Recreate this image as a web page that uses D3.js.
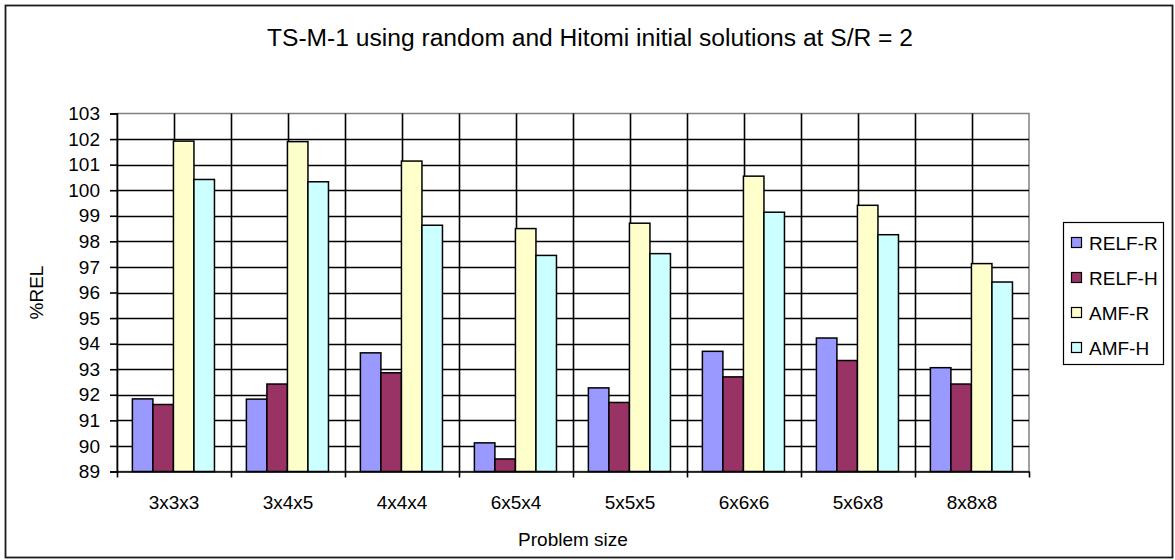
<!DOCTYPE html>
<html>
<head>
<meta charset="utf-8">
<script src="https://cdn.jsdelivr.net/npm/d3@7"></script>
<style>
  html, body { margin: 0; padding: 0; background: #fff; }
  svg { display: block; font-family: "Liberation Sans", Arial, sans-serif; }
</style>
</head>
<body>
<svg id="chart" width="1175" height="560"></svg>
<script>
const categories = ["3x3x3", "3x4x5", "4x4x4", "6x5x4", "5x5x5", "6x6x6", "5x6x8", "8x8x8"];
const seriesNames = ["RELF-R", "RELF-H", "AMF-R", "AMF-H"];
const relfR = [91.84, 91.83, 93.64, 90.12, 92.27, 93.70, 94.22, 93.06];
const relfH = [91.62, 92.42, 92.86, 89.49, 91.70, 92.70, 93.34, 92.42];
const amfR  = [101.92, 101.90, 101.14, 98.50, 98.71, 100.55, 99.41, 97.13];
const amfH  = [100.42, 100.33, 98.63, 97.45, 97.52, 99.14, 98.26, 96.41];
const seriesValues = [relfR, relfH, amfR, amfH];
const seriesColors = ["#9999FF", "#993366", "#FFFFCC", "#CCFFFF"];
const yTicks = [89, 90, 91, 92, 93, 94, 95, 96, 97, 98, 99, 100, 101, 102, 103];
const titleText = "TS-M-1 using random and Hitomi initial solutions at S/R = 2";
const xTitle = "Problem size";
const yTitle = "%REL";

const svg = d3.select("#chart");
const plot = { left: 117, right: 1029, top: 113.5, bottom: 471.5 };

// outer chart border
svg.append("rect").attr("x", 5.5).attr("y", 5.5).attr("width", 1167).attr("height", 552)
  .attr("fill", "#fff").attr("stroke", "#1a1a1a").attr("stroke-width", 1.8);

// title
svg.append("text").attr("x", 590).attr("y", 46).attr("text-anchor", "middle")
  .attr("font-size", 23).attr("fill", "#000")
  .attr("textLength", 646).attr("lengthAdjust", "spacingAndGlyphs")
  .text(titleText);

const x0 = d3.scaleBand().domain(categories).range([plot.left, plot.right]).paddingInner(0).paddingOuter(0);
const bw = x0.bandwidth();
const x1 = d3.scaleBand().domain(seriesNames).range([bw * 0.135, bw * 0.855]).padding(0);
const y = d3.scaleLinear().domain([89, 103]).range([plot.bottom, plot.top]);

// plot area
svg.append("rect").attr("x", plot.left).attr("y", plot.top)
  .attr("width", plot.right - plot.left).attr("height", plot.bottom - plot.top)
  .attr("fill", "#fff").attr("stroke", "#808080").attr("stroke-width", 1.5);

// horizontal gridlines
svg.append("g").selectAll("line").data(yTicks.filter(v => v > 89 && v < 103)).join("line")
  .attr("x1", plot.left).attr("x2", plot.right)
  .attr("y1", d => Math.round(y(d)) + 0.5).attr("y2", d => Math.round(y(d)) + 0.5)
  .attr("stroke", "#000").attr("stroke-width", 1.6);

// vertical gridlines at category boundaries and centres
const vLines = [];
categories.forEach((c, i) => {
  if (i > 0) vLines.push(x0(c));
  vLines.push(x0(c) + bw / 2);
});
svg.append("g").selectAll("line").data(vLines).join("line")
  .attr("x1", d => Math.round(d) + 0.5).attr("x2", d => Math.round(d) + 0.5)
  .attr("y1", plot.top).attr("y2", plot.bottom)
  .attr("stroke", "#000").attr("stroke-width", 1.6);

// bars
const barData = [];
categories.forEach((c, i) => {
  seriesNames.forEach((s, j) => {
    barData.push({ c, s, v: seriesValues[j][i], color: seriesColors[j] });
  });
});
svg.append("g").selectAll("rect").data(barData).join("rect")
  .attr("x", d => x0(d.c) + x1(d.s))
  .attr("width", x1.bandwidth())
  .attr("y", d => y(d.v))
  .attr("height", d => y(89) - y(d.v))
  .attr("fill", d => d.color)
  .attr("stroke", "#000").attr("stroke-width", 1.5);

// y axis
const yAxis = d3.axisLeft(y).tickValues(yTicks).tickSize(7).tickPadding(10).tickFormat(d3.format("d"));
const gy = svg.append("g").attr("transform", `translate(${plot.left},0)`).call(yAxis);
gy.select(".domain").attr("stroke", "#000").attr("stroke-width", 1.6);
gy.selectAll(".tick line").attr("stroke", "#000").attr("stroke-width", 1.6);
gy.selectAll(".tick text").attr("font-size", 19).attr("fill", "#000")
  .attr("font-family", "Liberation Sans, Arial, sans-serif");

// x axis
const xAxis = d3.axisBottom(x0).tickSize(0).tickPadding(24);
const gx = svg.append("g").attr("transform", `translate(0,${plot.bottom})`).call(xAxis);
gx.select(".domain").attr("stroke", "#000").attr("stroke-width", 1.6);
gx.selectAll(".tick text").attr("font-size", 19).attr("fill", "#000")
  .attr("font-family", "Liberation Sans, Arial, sans-serif");
// category boundary tick marks
const bounds = categories.map(c => x0(c)).concat([plot.right]);
gx.append("g").selectAll("line").data(bounds).join("line")
  .attr("x1", d => Math.round(d) + 0.5).attr("x2", d => Math.round(d) + 0.5)
  .attr("y1", 0).attr("y2", 6).attr("stroke", "#000").attr("stroke-width", 1.6);

// axis titles
svg.append("text").attr("x", (plot.left + plot.right) / 2).attr("y", 546)
  .attr("text-anchor", "middle").attr("font-size", 19).attr("fill", "#000").text(xTitle);
svg.append("text").attr("transform", `translate(43,${(plot.top + plot.bottom) / 2}) rotate(-90)`)
  .attr("text-anchor", "middle").attr("font-size", 19).attr("fill", "#000").text(yTitle);

// legend
const leg = svg.append("g");
leg.append("rect").attr("x", 1063.5).attr("y", 222.5).attr("width", 100).attr("height", 142)
  .attr("fill", "#fff").attr("stroke", "#000").attr("stroke-width", 1.2);
const rowY = [243, 278, 313, 348];
seriesNames.forEach((s, j) => {
  leg.append("rect").attr("x", 1071.5).attr("y", rowY[j] - 5.5).attr("width", 10).attr("height", 10)
    .attr("fill", seriesColors[j]).attr("stroke", "#000").attr("stroke-width", 1.2);
  leg.append("text").attr("x", 1089).attr("y", rowY[j] + 7).attr("font-size", 19)
    .attr("fill", "#000").text(s);
});
</script>
</body>
</html>
